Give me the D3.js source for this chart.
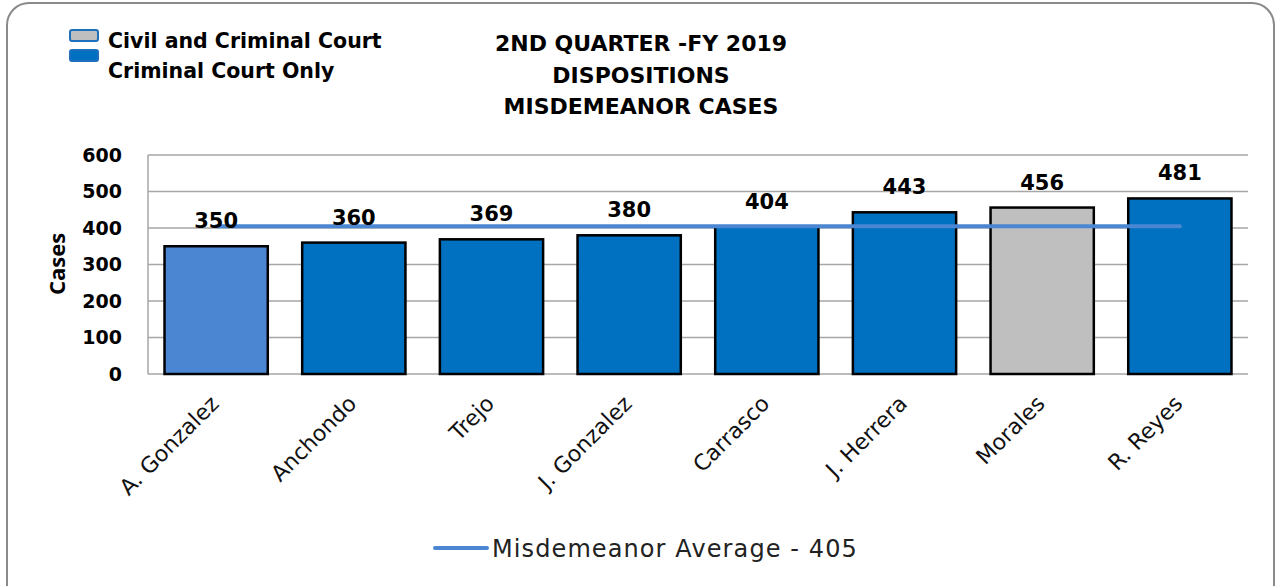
<!DOCTYPE html>
<html>
<head>
<meta charset="utf-8">
<script src="https://cdn.jsdelivr.net/npm/d3@7"></script>
<style>
  body { margin: 0; background: #fff; }
  svg { display: block; }
</style>
</head>
<body>
<script>
// chart data
var judges = ["A. Gonzalez", "Anchondo", "Trejo", "J. Gonzalez", "Carrasco", "J. Herrera", "Morales", "R. Reyes"];
var cases = [350, 360, 369, 380, 404, 443, 456, 481];
var courtType = ["highlight", "criminal", "criminal", "criminal", "criminal", "criminal", "civil", "criminal"];
var yTicks = [0, 100, 200, 300, 400, 500, 600];
var average = 405;
var titleLines = ["2ND QUARTER -FY 2019", "DISPOSITIONS", "MISDEMEANOR CASES"];
var legendLabels = ["Civil and Criminal Court", "Criminal Court Only"];
var legendTypes = ["civil", "criminal"];

var colors = {highlight: "#4a86d2", criminal: "#0070c0", civil: "#bfbfbf"};

var W = 1276, H = 586;
var plot = {left: 148, right: 1248, top: 155, bottom: 374};

var svg = d3.select("body").append("svg").attr("width", W).attr("height", H);

// rounded frame
svg.append("rect")
   .attr("x", 7).attr("y", 3).attr("width", 1267).attr("height", 620)
   .attr("rx", 22).attr("ry", 22)
   .attr("fill", "#fff").attr("stroke", "#8a8a8a").attr("stroke-width", 2);

var x = d3.scaleBand().domain(judges).range([plot.left, plot.right])
          .paddingInner(0.25).paddingOuter(0.12);
var y = d3.scaleLinear().domain([0, 600]).range([plot.bottom, plot.top]);

// gridlines
svg.append("g")
   .selectAll("line").data(yTicks).enter().append("line")
   .attr("x1", plot.left).attr("x2", plot.right)
   .attr("y1", function(d) { return y(d); }).attr("y2", function(d) { return y(d); })
   .attr("stroke", "#a6a6a6").attr("stroke-width", 1.5);

svg.append("line")
   .attr("x1", plot.left).attr("x2", plot.left)
   .attr("y1", plot.top).attr("y2", plot.bottom)
   .attr("stroke", "#a6a6a6").attr("stroke-width", 1.5);

// y axis labels
var yAxis = d3.axisLeft(y).tickValues(yTicks).tickSize(0).tickPadding(26);
var yg = svg.append("g").attr("transform", "translate(" + plot.left + ",0)").call(yAxis);
yg.select(".domain").remove();
yg.selectAll("text")
  .attr("font-family", "'DejaVu Sans', sans-serif").attr("font-weight", "bold")
  .attr("font-size", "19px").attr("fill", "#000");

svg.append("text")
   .attr("transform", "translate(65,264) rotate(-90)")
   .attr("text-anchor", "middle")
   .attr("font-family", "'Open Sans', sans-serif").attr("font-weight", "bold")
   .attr("font-size", "22px")
   .text("Cases");

// bars
svg.selectAll("rect.bar").data(cases).enter().append("rect")
   .attr("class", "bar")
   .attr("x", function(d, i) { return x(judges[i]); })
   .attr("y", function(d) { return y(d); })
   .attr("width", x.bandwidth())
   .attr("height", function(d) { return y(0) - y(d); })
   .attr("fill", function(d, i) { return colors[courtType[i]]; })
   .attr("stroke", "#000").attr("stroke-width", 2.5);

// average line
svg.append("line")
   .attr("x1", x(judges[0]) + x.bandwidth() / 2)
   .attr("x2", x(judges[judges.length - 1]) + x.bandwidth() / 2)
   .attr("y1", y(average)).attr("y2", y(average))
   .attr("stroke", "#4a86d2").attr("stroke-width", 4).attr("stroke-linecap", "round");

// value labels
svg.selectAll("text.val").data(cases).enter().append("text")
   .attr("class", "val")
   .attr("x", function(d, i) { return x(judges[i]) + x.bandwidth() / 2; })
   .attr("y", function(d) { return y(d) - 18; })
   .attr("text-anchor", "middle")
   .attr("font-family", "'DejaVu Sans', sans-serif").attr("font-weight", "bold")
   .attr("font-size", "21px")
   .text(function(d) { return d; });

// x labels
svg.selectAll("text.cat").data(judges).enter().append("text")
   .attr("class", "cat")
   .attr("transform", function(d) { return "translate(" + (x(d) + x.bandwidth() / 2 + 4) + ",405) rotate(-45)"; })
   .attr("text-anchor", "end")
   .attr("font-family", "'DejaVu Sans', sans-serif")
   .attr("font-size", "22px").attr("fill", "#111")
   .text(function(d) { return d; });

// title
svg.selectAll("text.title").data(titleLines).enter().append("text")
   .attr("class", "title")
   .attr("x", 641).attr("y", function(d, i) { return 51 + i * 31.5; })
   .attr("text-anchor", "middle")
   .attr("font-family", "'DejaVu Sans', sans-serif").attr("font-weight", "bold")
   .attr("font-size", "22px")
   .text(function(d) { return d; });

// top-left legend
var lg = svg.selectAll("g.leg").data(legendLabels).enter().append("g")
   .attr("class", "leg")
   .attr("transform", function(d, i) { return "translate(70," + (30 + i * 20) + ")"; });
lg.append("rect")
  .attr("width", 28).attr("height", 11).attr("rx", 2)
  .attr("fill", function(d, i) { return colors[legendTypes[i]]; })
  .attr("stroke", "#1f6fbf").attr("stroke-width", 2);
lg.append("text")
  .attr("x", 38).attr("y", function(d, i) { return 18 + i * 10; })
  .attr("font-family", "'DejaVu Sans', sans-serif").attr("font-weight", "bold")
  .attr("font-size", "20.5px")
  .text(function(d) { return d; });

// bottom legend
svg.append("line")
   .attr("x1", 435).attr("x2", 487).attr("y1", 548).attr("y2", 548)
   .attr("stroke", "#4a86d2").attr("stroke-width", 4).attr("stroke-linecap", "round");
svg.append("text")
   .attr("x", 492).attr("y", 557)
   .attr("font-family", "'DejaVu Sans', sans-serif")
   .attr("font-size", "24px").attr("fill", "#222")
   .attr("letter-spacing", "1.1px")
   .text("Misdemeanor Average - " + average);
</script>
</body>
</html>
